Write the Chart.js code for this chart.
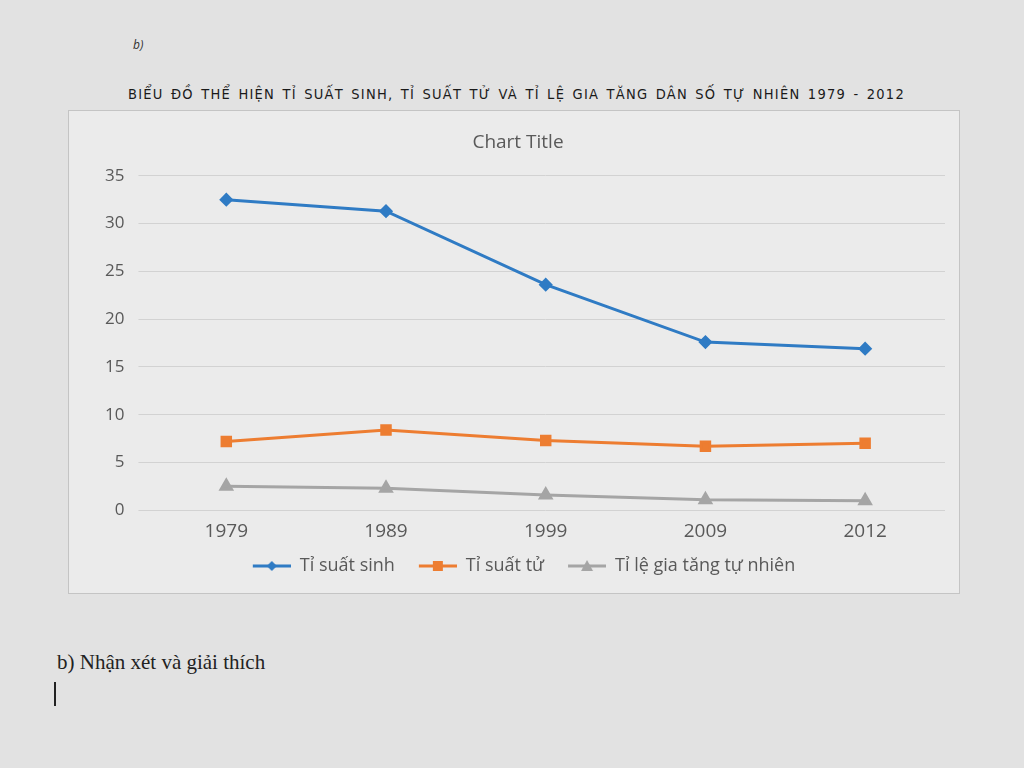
<!DOCTYPE html>
<html>
<head>
<meta charset="utf-8">
<script src="https://cdn.jsdelivr.net/npm/chart.js@4"></script>
<style>
  body{margin:0;background:#e2e2e2;font-family:"Open Sans",sans-serif;width:1024px;height:768px;position:relative;overflow:hidden;}
  #tag{position:absolute;left:133px;top:36px;font-size:12px;font-style:italic;color:#333;}
  #heading{position:absolute;left:128px;top:86px;font-size:14.5px;color:#1a1a1a;letter-spacing:1.25px;word-spacing:2px;font-family:"Liberation Sans Narrow","DejaVu Sans Condensed",sans-serif;}
  #box{position:absolute;left:68px;top:110px;width:890px;height:482px;background:#ebebeb;border:1px solid #c4c4c4;}
  #note{position:absolute;left:57px;top:650px;font-family:"Liberation Serif",serif;font-size:21px;color:#222;}
  #cursor{position:absolute;left:54px;top:682px;width:2px;height:24px;background:#222;}
</style>
</head>
<body>
<div id="tag">b)</div>
<div id="heading">BIỂU ĐỒ THỂ HIỆN TỈ SUẤT SINH, TỈ SUẤT TỬ VÀ TỈ LỆ GIA TĂNG DÂN SỐ TỰ NHIÊN 1979 - 2012</div>
<div id="box"><canvas id="chart" width="890" height="482"></canvas></div>
<div id="note">b) Nhận xét và giải thích</div>
<div id="cursor"></div>
<script>
const years = ['1979','1989','1999','2009','2012'];
const birthRate = [32.5, 31.3, 23.6, 17.6, 16.9];
const deathRate = [7.2, 8.4, 7.3, 6.7, 7.0];
const naturalGrowth = [2.5, 2.3, 1.6, 1.1, 1.0];
const yTicks = [0,5,10,15,20,25,30,35];

// legend swatch: short line with the marker on it (Excel style), left margin for item spacing
function legendIcon(color, style){
  const c = document.createElement('canvas');
  c.width = 50; c.height = 14;
  const g = c.getContext('2d');
  g.strokeStyle = color; g.fillStyle = color; g.lineWidth = 3;
  g.beginPath(); g.moveTo(12,7); g.lineTo(50,7); g.stroke();
  g.beginPath();
  if(style==='rectRot'){ g.moveTo(31,2); g.lineTo(36,7); g.lineTo(31,12); g.lineTo(26,7); }
  else if(style==='rect'){ g.rect(26,2,10,10); }
  else { g.moveTo(31,1); g.lineTo(37,12); g.lineTo(25,12); }
  g.closePath(); g.fill();
  return c;
}

const series = [
  {label:'Tỉ suất sinh', data:birthRate, color:'#2f7bc4', style:'rectRot', r:5},
  {label:'Tỉ suất tử', data:deathRate, color:'#ed7d31', style:'rect', r:6},
  {label:'Tỉ lệ gia tăng tự nhiên', data:naturalGrowth, color:'#a5a5a5', style:'triangle', r:6}
];

new Chart(document.getElementById('chart').getContext('2d'), {
  type:'line',
  data:{
    labels:years,
    datasets:series.map(s=>({
      label:s.label, data:s.data,
      borderColor:s.color, backgroundColor:s.color,
      borderWidth:3, pointStyle:s.style, pointRadius:s.r, pointHoverRadius:s.r,
      tension:0
    }))
  },
  options:{
    responsive:false, animation:false,
    layout:{padding:{left:22,right:14,top:6,bottom:8}},
    plugins:{
      title:{display:true, text:'Chart Title', color:'#595959', font:{family:'Open Sans', size:19, weight:'normal'}, padding:{top:14,bottom:22}},
      legend:{
        position:'bottom',
        labels:{
          color:'#595959', font:{family:'Open Sans', size:18}, padding:12,
          usePointStyle:true, pointStyleWidth:50,
          generateLabels:(chart)=>chart.data.datasets.map((d,i)=>({
            text:d.label, pointStyle:legendIcon(series[i].color, series[i].style),
            fontColor:'#595959', datasetIndex:i, hidden:false, lineWidth:0
          }))
        }
      },
      tooltip:{enabled:false}
    },
    scales:{
      x:{
        offset:true,
        grid:{display:false}, border:{display:false},
        ticks:{color:'#595959', font:{family:'Open Sans', size:19}, padding:2}
      },
      y:{
        min:0, max:35,
        afterBuildTicks:(axis)=>{ axis.ticks = yTicks.map(v=>({value:v})); },
        grid:{color:'#d2d2d2', lineWidth:1}, border:{display:false},
        ticks:{color:'#595959', font:{family:'Open Sans', size:17}, padding:14}
      }
    }
  }
});
</script>
</body>
</html>
